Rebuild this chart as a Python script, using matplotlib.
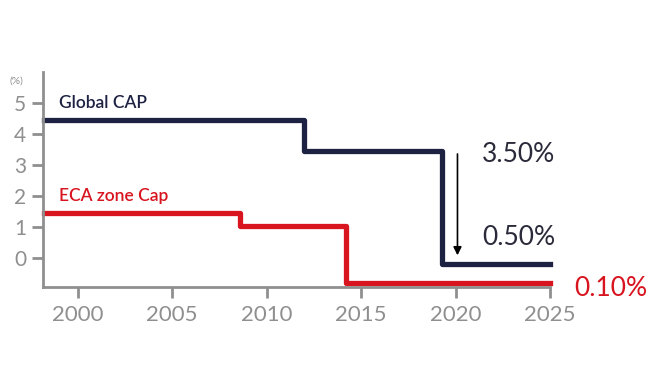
import matplotlib.pyplot as plt

# step data
global_years = [1998.2, 2012.0, 2019.3, 2025.0]
global_cap = [4.45, 3.45, -0.18, -0.18]
eca_years = [1998.2, 2008.6, 2014.2, 2025.0]
eca_cap = [1.45, 1.02, -0.8, -0.8]

xticks = [2000, 2005, 2010, 2015, 2020, 2025]
yticks = [0, 1, 2, 3, 4, 5]

navy = '#1d2142'
red = '#d8141f'
grey = '#8f8f8f'

plt.rcParams['font.family'] = ['Lato', 'DejaVu Sans']

fig = plt.figure(figsize=(6.7, 3.8), dpi=100)
ax = fig.add_axes([0.064, 0.245, 0.757, 0.565])

ax.plot(global_years, global_cap, drawstyle='steps-post', color=navy, lw=3.8, clip_on=False)
ax.plot(eca_years, eca_cap, drawstyle='steps-post', color=red, lw=3.8, clip_on=False)

ax.set_xlim(1998.16, 2025)
ax.set_ylim(-0.93, 6.0)
ax.set_xticks(xticks)
ax.set_yticks(yticks)
ax.tick_params(axis='x', colors=grey, labelsize=16, length=8, width=2, pad=5)
ax.tick_params(axis='y', colors=grey, labelsize=15, length=8, width=2, pad=4)
for s in ['top', 'right']:
    ax.spines[s].set_visible(False)
for s in ['left', 'bottom']:
    ax.spines[s].set_color(grey)
    ax.spines[s].set_linewidth(2)

ax.text(1999.0, 5.0, 'Global CAP', color=navy, fontsize=12.5, va='center', fontweight='semibold')
ax.text(1999.0, 2.0, 'ECA zone Cap', color=red, fontsize=12.5, va='center', fontweight='semibold')
ax.text(-0.065, 0.96, '(%)', transform=ax.transAxes, color=grey, fontsize=7.5, va='center')

ax.annotate('', xy=(2020.1, 0.0), xytext=(2020.1, 3.45),
            arrowprops=dict(arrowstyle='-|>', color='black', lw=1.2, mutation_scale=12))
ax.text(2021.4, 3.35, '3.50%', color='#2a2a3a', fontsize=19, va='center')
ax.text(2021.4, 0.65, '0.50%', color='#2a2a3a', fontsize=19, va='center')
ax.text(2026.3, -0.97, '0.10%', color=red, fontsize=19, va='center', clip_on=False)

fig.savefig('out.png', dpi=100)
